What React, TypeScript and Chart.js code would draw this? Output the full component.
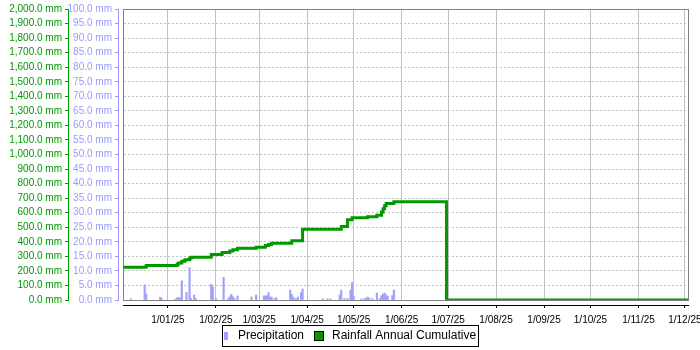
import React, { useEffect, useRef } from 'react';
import { Chart, registerables } from 'chart.js';

Chart.register(...registerables);

// ---- data ----
const X_START = '2024-12-03';
const X_END = '2025-12-03';

const X_TICK_DATES = [
  '2025-01-01', '2025-02-01', '2025-03-01', '2025-04-01', '2025-05-01', '2025-06-01',
  '2025-07-01', '2025-08-01', '2025-09-01', '2025-10-01', '2025-11-01', '2025-12-01',
];
const X_TICK_LABELS = [
  '1/01/25', '1/02/25', '1/03/25', '1/04/25', '1/05/25', '1/06/25',
  '1/07/25', '1/08/25', '1/09/25', '1/10/25', '1/11/25', '1/12/25',
];

const PRECIP_DATES = [
  '2024-12-08', '2024-12-17', '2024-12-18', '2024-12-27', '2024-12-28',
  '2025-01-06', '2025-01-07', '2025-01-08', '2025-01-09', '2025-01-10', '2025-01-13',
  '2025-01-15', '2025-01-16', '2025-01-18', '2025-01-19', '2025-01-29', '2025-01-30',
  '2025-02-01', '2025-02-06', '2025-02-09', '2025-02-10', '2025-02-11', '2025-02-12',
  '2025-02-13', '2025-02-15', '2025-02-24', '2025-02-27',
  '2025-03-04', '2025-03-05', '2025-03-06', '2025-03-07', '2025-03-08', '2025-03-09',
  '2025-03-11', '2025-03-12', '2025-03-21', '2025-03-22', '2025-03-23', '2025-03-24',
  '2025-03-25', '2025-03-26', '2025-03-28', '2025-03-29',
  '2025-04-11', '2025-04-14', '2025-04-16', '2025-04-22', '2025-04-23', '2025-04-25',
  '2025-04-27', '2025-04-29', '2025-04-30',
  '2025-05-01', '2025-05-06', '2025-05-08', '2025-05-09', '2025-05-10', '2025-05-11',
  '2025-05-13', '2025-05-16', '2025-05-18', '2025-05-19', '2025-05-20', '2025-05-21',
  '2025-05-22', '2025-05-23', '2025-05-26', '2025-05-27',
];
const PRECIP_MM = [
  0.4, 5.2, 2.0, 1.0, 0.5,
  0.3, 0.8, 0.8, 0.8, 6.6, 2.6,
  11.1, 0.5, 1.7, 0.5, 5.4, 4.5,
  0.5, 7.8, 0.5, 1.1, 2.0, 1.1,
  0.5, 1.4, 1.0, 1.7,
  1.4, 1.4, 1.4, 2.6, 1.0, 1.0,
  0.5, 0.8, 3.4, 2.0, 1.0, 0.4,
  0.4, 1.0, 2.6, 3.8,
  0.4, 0.4, 0.4, 1.7, 3.4, 0.5,
  0.5, 3.4, 6.0,
  1.4, 0.4, 0.5, 0.5, 1.0, 0.7,
  0.5, 2.4, 0.5, 1.5, 2.0, 2.4,
  1.7, 1.3, 1.5, 3.4,
];

const CUMUL_DATES = [
  '2024-12-03', '2024-12-18', '2025-01-07', '2025-01-08', '2025-01-10', '2025-01-12',
  '2025-01-15', '2025-01-16', '2025-01-29', '2025-02-05', '2025-02-10', '2025-02-12',
  '2025-02-15', '2025-02-27', '2025-03-05', '2025-03-07', '2025-03-09', '2025-03-22',
  '2025-03-29', '2025-04-23', '2025-04-27', '2025-04-30', '2025-05-10', '2025-05-16',
  '2025-05-19', '2025-05-20', '2025-05-21', '2025-05-22', '2025-05-27', '2025-06-30',
  '2025-12-03',
];
const CUMUL_MM = [
  225, 237, 248, 255, 266, 276,
  287, 294, 312, 326, 337, 346,
  356, 362, 374, 381, 390, 408,
  486, 506, 552, 566, 573, 582,
  605, 628, 648, 664, 676, 0,
  0,
];

const Y_CUMUL_MAX = 2000;
const Y_CUMUL_STEP = 100;
const Y_PRECIP_MAX = 100;
const Y_PRECIP_STEP = 5;

// ---- helpers ----
const DAY_MS = 86400000;
const ORIGIN = Date.UTC(2025, 0, 1);
const toDay = (s: string) => {
  const [y, m, d] = s.split('-').map(Number);
  return (Date.UTC(y, m - 1, d) - ORIGIN) / DAY_MS;
};
const fmtMM = (v: number) =>
  Number(v).toLocaleString('en-US', { minimumFractionDigits: 1, maximumFractionDigits: 1 }) + ' mm';

const FONT = "'Liberation Sans', Arial, sans-serif";
const GREEN = '#009900';
const PURPLE_AXIS = '#9999ff';
const PURPLE_BAR = '#a0a0ff';
const GRID = '#c0c0c0';

const framePlugin = {
  id: 'frame',
  beforeDatasetsDraw(chart: any) {
    const { ctx, chartArea } = chart;
    const l = Math.round(chartArea.left);
    const t = Math.round(chartArea.top);
    const r = Math.round(chartArea.right);
    const b = Math.round(chartArea.bottom);
    ctx.save();
    ctx.strokeStyle = '#808080';
    ctx.lineWidth = 1;
    ctx.strokeRect(l + 0.5, t + 0.5, r - l, b - t);
    ctx.restore();
  },
};

const legendBoxPlugin = {
  id: 'legendBox',
  afterDraw(chart: any) {
    const hb = chart.legend && chart.legend.legendHitBoxes;
    if (!hb || !hb.length) return;
    const { ctx } = chart;
    const l = Math.min(...hb.map((h: any) => h.left));
    const r = Math.max(...hb.map((h: any) => h.left + h.width));
    const t = hb[0].top;
    ctx.save();
    ctx.strokeStyle = '#000';
    ctx.lineWidth = 1;
    const x0 = Math.round(l - 2);
    const x1 = Math.round(r + 2);
    const y0 = Math.round(t - 5);
    ctx.strokeRect(x0 + 0.5, y0 + 0.5, x1 - x0, 21);
    ctx.restore();
  },
};

function makeSwatch(w: number, h: number, draw: (c: CanvasRenderingContext2D) => void) {
  const c = document.createElement('canvas');
  c.width = w;
  c.height = h;
  const ctx = c.getContext('2d')!;
  draw(ctx);
  return c;
}

export default function App() {
  const ref = useRef<HTMLCanvasElement | null>(null);

  useEffect(() => {
    if (!ref.current) return;
    const purpleSwatch = makeSwatch(8, 8, (c) => {
      c.fillStyle = PURPLE_BAR;
      c.fillRect(0, 0, 4, 8);
    });
    const greenSwatch = makeSwatch(16, 10, (c) => {
      c.fillStyle = GREEN;
      c.fillRect(0, 0, 10, 10);
      c.strokeStyle = '#000';
      c.lineWidth = 1;
      c.strokeRect(0.5, 0.5, 9, 9);
    });
    const tickDays = X_TICK_DATES.map(toDay);

    const chart = new Chart(ref.current, {
      type: 'line',
      data: {
        datasets: [
          {
            type: 'bar',
            label: 'Precipitation',
            data: PRECIP_DATES.map((d, i) => ({ x: toDay(d), y: PRECIP_MM[i] })),
            xAxisID: 'x',
            yAxisID: 'y1',
            backgroundColor: PURPLE_BAR,
            borderWidth: 0,
            barThickness: 1.5,
            grouped: false,
            order: 1,
          } as any,
          {
            type: 'line',
            label: 'Rainfall Annual Cumulative',
            data: CUMUL_DATES.map((d, i) => ({ x: toDay(d), y: CUMUL_MM[i] })),
            xAxisID: 'x',
            yAxisID: 'y',
            borderColor: GREEN,
            backgroundColor: GREEN,
            borderWidth: 3,
            stepped: 'before',
            pointRadius: 0,
            fill: false,
            order: 0,
          } as any,
        ],
      },
      options: {
        animation: false,
        responsive: false,
        events: [],
        layout: { padding: { top: 8, left: 0, right: 0, bottom: -2 } },
        plugins: {
          tooltip: { enabled: false },
          legend: {
            position: 'bottom',
            labels: {
              font: { size: 12, family: FONT },
              color: '#000',
              usePointStyle: true,
              pointStyleWidth: 8,
              padding: 14,
              generateLabels: () => [
                {
                  text: 'Precipitation',
                  pointStyle: purpleSwatch,
                  fillStyle: PURPLE_BAR,
                  strokeStyle: PURPLE_BAR,
                  lineWidth: 0,
                  hidden: false,
                  datasetIndex: 0,
                },
                {
                  text: 'Rainfall Annual Cumulative',
                  pointStyle: greenSwatch,
                  fillStyle: GREEN,
                  strokeStyle: '#000',
                  lineWidth: 0,
                  hidden: false,
                  datasetIndex: 1,
                },
              ] as any,
            },
          },
        },
        scales: {
          x: {
            type: 'linear',
            position: 'bottom',
            weight: 1,
            min: toDay(X_START),
            max: toDay(X_END),
            offset: false,
            afterBuildTicks: (s: any) => {
              s.ticks = tickDays.map((v) => ({ value: v }));
            },
            afterFit: (s: any) => {
              s.height = 11;
              s.paddingLeft = 0;
              s.paddingRight = 0;
              s._computeLabelArea = () => undefined;
            },
            ticks: {
              autoSkip: false,
              maxRotation: 0,
              minRotation: 0,
              padding: 6,
              color: '#000',
              font: { size: 10, family: FONT },
              callback: (_v: any, i: number) => X_TICK_LABELS[i],
            },
            grid: {
              color: GRID,
              lineWidth: 1,
              drawOnChartArea: true,
              drawTicks: true,
              tickLength: 3,
              tickColor: '#000',
              offset: false,
            },
            border: { display: true, color: '#000', width: 1 },
          },
          xgap: {
            type: 'linear',
            position: 'bottom',
            weight: 0,
            ticks: { display: false },
            grid: { display: false },
            border: { display: false },
            afterFit: (s: any) => {
              s.height = 5;
            },
          },
          y: {
            type: 'linear',
            position: 'left',
            weight: 2,
            min: 0,
            max: Y_CUMUL_MAX,
            ticks: {
              stepSize: Y_CUMUL_STEP,
              autoSkip: false,
              padding: 3,
              color: GREEN,
              font: { size: 10, family: FONT },
              callback: (v: any) => fmtMM(v),
            },
            grid: {
              color: GRID,
              lineWidth: 1,
              drawOnChartArea: true,
              drawTicks: true,
              tickLength: 3,
              tickColor: GREEN,
            },
            border: { display: true, color: GREEN, width: 1, dash: [2, 2] },
            afterFit: (s: any) => {
              s.width = 68;
            },
          },
          y1: {
            type: 'linear',
            position: 'left',
            weight: 1,
            min: 0,
            max: Y_PRECIP_MAX,
            ticks: {
              stepSize: Y_PRECIP_STEP,
              autoSkip: false,
              padding: 3,
              color: PURPLE_AXIS,
              font: { size: 10, family: FONT },
              callback: (v: any) => fmtMM(v),
            },
            grid: {
              color: PURPLE_AXIS,
              drawOnChartArea: false,
              drawTicks: true,
              tickLength: 3,
              tickColor: PURPLE_AXIS,
            },
            border: { display: true, color: PURPLE_AXIS, width: 1 },
            afterFit: (s: any) => {
              s.width = 50;
            },
          },
          ygap: {
            type: 'linear',
            position: 'left',
            weight: 0,
            ticks: { display: false },
            grid: { display: false },
            border: { display: false },
            afterFit: (s: any) => {
              s.width = 5;
            },
          },
          rgap: {
            type: 'linear',
            position: 'right',
            weight: 0,
            ticks: { display: false },
            grid: { display: false },
            border: { display: false },
            afterFit: (s: any) => {
              s.width = 12;
            },
          },
        } as any,
      },
      plugins: [framePlugin, legendBoxPlugin],
    });

    return () => chart.destroy();
  }, []);

  return (
    <div style={{ position: 'absolute', left: 0, top: 0, width: 700, height: 350, background: '#fff' }}>
      <canvas ref={ref} width={700} height={350} style={{ display: 'block' }} />
    </div>
  );
}
